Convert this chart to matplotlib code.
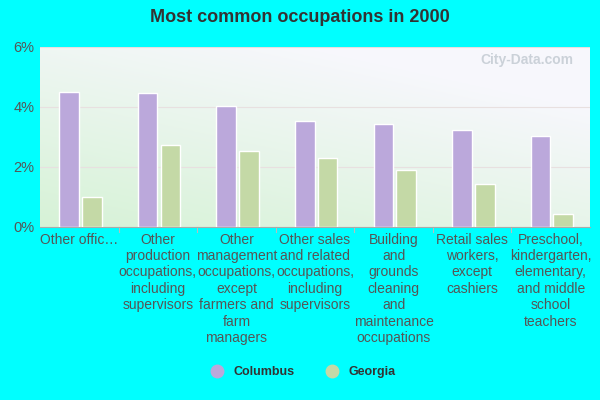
import matplotlib
matplotlib.use("Agg")
import matplotlib.pyplot as plt
import numpy as np
from matplotlib.lines import Line2D

plt.rcParams["font.family"] = "Liberation Sans"

categories = ["Other offic…", "Other\nproduction\noccupations,\nincluding\nsupervisors",
              "Other\nmanagement\noccupations,\nexcept\nfarmers and\nfarm\nmanagers",
              "Other sales\nand related\noccupations,\nincluding\nsupervisors",
              "Building\nand\ngrounds\ncleaning\nand\nmaintenance\noccupations",
              "Retail sales\nworkers,\nexcept\ncashiers",
              "Preschool,\nkindergarten,\nelementary,\nand middle\nschool\nteachers"]
columbus = [4.5, 4.47, 4.03, 3.53, 3.45, 3.23, 3.05]
georgia = [1.0, 2.75, 2.55, 2.3, 1.9, 1.43, 0.43]
yticks = [0, 2, 4, 6]
yticklabels = ["0%", "2%", "4%", "6%"]

fig = plt.figure(figsize=(6, 4), dpi=100, facecolor="#00ffff")
ax = fig.add_axes([40/600, 1-227/400, 550/600, 180/400])
ax.set_facecolor("none")

h, w = 100, 100
yy, xx = np.mgrid[0:1:h*1j, 0:1:w*1j]
t = np.clip((xx*0.6 + yy*0.9) / 1.2, 0, 1)
c0 = np.array([0.84, 0.95, 0.84]); c1 = np.array([0.97, 0.97, 0.99])
img = c0[None, None, :]*(1-t[..., None]) + c1[None, None, :]*t[..., None]
ax.imshow(img, extent=[0, 1, 0, 1], transform=ax.transAxes, origin="lower", aspect="auto", zorder=0)

x = np.arange(len(categories))
bw = 0.25
ax.bar(x - 0.13, columbus, bw, color="#bba8db", edgecolor="white", linewidth=1, zorder=3)
ax.bar(x + 0.16, georgia, bw, color="#c4d9a6", edgecolor="white", linewidth=1, zorder=3)
ax.set_xlim(-0.5, len(categories) - 0.5)
ax.set_ylim(0, 6)
ax.set_yticks(yticks)
ax.set_yticklabels(yticklabels, color="#555555", fontsize=10.5)
ax.grid(axis="y", color="#e8e0e0", linewidth=0.8, zorder=1)
ax.set_xticks(x)
ax.set_xticklabels(categories, color="#555555", fontsize=10, linespacing=1.22)
ax.tick_params(length=0, pad=4)
for xi in np.arange(0.5, len(categories) - 0.5):
    ax.axvline(xi, ymin=-0.03, ymax=0, color="#bbbbbb", linewidth=0.8, clip_on=False)
for s in ["top", "right", "left"]:
    ax.spines[s].set_visible(False)
ax.spines["bottom"].set_color("#aaaaaa")

fig.text(0.5, 1-18/400, "Most common occupations in 2000", ha="center", va="center",
         fontsize=13, fontweight="bold", color="#333333")
ax.text(0.97, 0.93, "City-Data.com", transform=ax.transAxes, ha="right", va="center",
        fontsize=10, color="#c0c8d0", alpha=0.8, fontweight="bold")

handles = [Line2D([], [], marker="o", linestyle="", markersize=9, color="#bba8db"),
           Line2D([], [], marker="o", linestyle="", markersize=9, color="#c4d9a6")]
fig.legend(handles, ["Columbus", "Georgia"], loc="center", bbox_to_anchor=(0.5, 1-372/400),
           ncol=2, frameon=False, prop={"size": 9, "weight": "bold"}, labelcolor="#333333",
           handletextpad=0.3, columnspacing=2)
fig.savefig("out.png", facecolor=fig.get_facecolor())
